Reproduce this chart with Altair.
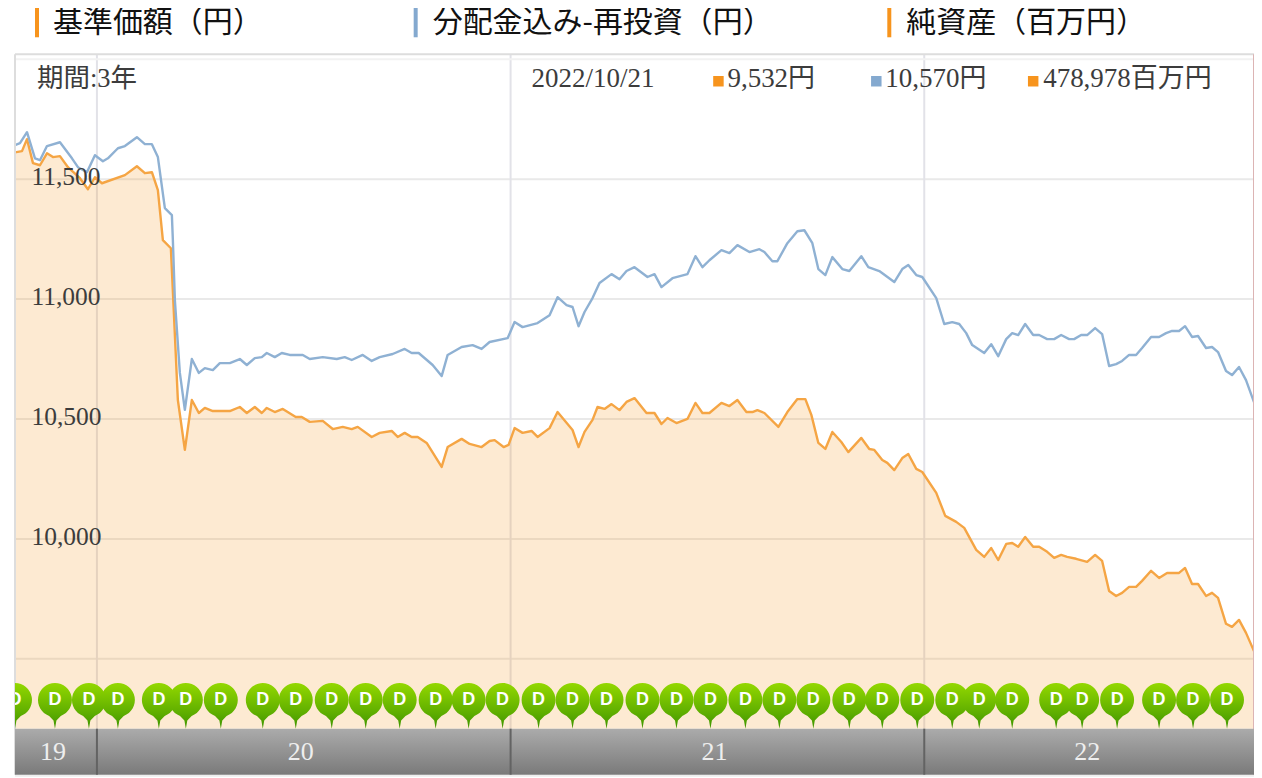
import altair as alt
import pandas as pd

# Time is counted in 1/414ths of a year from the start of the 3-year period
YEAR_STARTS = [82, 496, 910]
T_MAX = 1240

blue_t = [0,5,12,20,25,32,45,57,63,72,80,88,93,103,110,122,130,137,143,150,157,158,160,165,170,177,184,190,198,205,215,225,232,240,247,252,260,267,275,288,295,308,322,330,337,348,357,365,378,390,397,404,418,427,433,447,458,467,475,493,500,508,523,535,543,552,558,564,570,578,585,597,605,612,620,633,640,647,658,673,681,688,695,707,715,723,735,745,750,758,763,773,783,790,798,804,811,818,828,835,847,854,865,880,888,894,902,908,922,930,938,945,952,958,970,977,984,992,998,1004,1011,1019,1025,1033,1040,1047,1055,1060,1067,1073,1081,1088,1095,1102,1108,1115,1122,1128,1137,1145,1152,1158,1165,1171,1178,1184,1192,1198,1204,1212,1218,1225,1232,1240]
blue_v = [11642,11650,11696,11587,11579,11638,11654,11587,11550,11529,11600,11575,11587,11629,11638,11675,11646,11646,11592,11379,11350,11246,10996,10692,10538,10750,10692,10712,10704,10733,10733,10750,10725,10754,10758,10775,10758,10775,10767,10767,10750,10758,10750,10758,10746,10767,10742,10758,10771,10792,10775,10775,10725,10679,10767,10800,10808,10792,10821,10837,10904,10883,10900,10933,11008,10975,10967,10887,10946,11004,11067,11104,11083,11117,11133,11092,11104,11050,11087,11104,11179,11133,11162,11204,11192,11225,11196,11208,11196,11158,11158,11233,11283,11287,11233,11125,11100,11175,11125,11117,11179,11133,11117,11071,11125,11142,11100,11092,11004,10896,10904,10896,10858,10808,10775,10812,10762,10833,10858,10850,10896,10850,10850,10833,10833,10850,10833,10833,10850,10850,10879,10854,10721,10729,10742,10767,10767,10796,10842,10842,10858,10867,10867,10887,10842,10846,10796,10800,10779,10700,10683,10717,10662,10570]

orange_t = [0,7,12,18,25,32,38,45,53,65,73,80,87,110,122,130,137,143,148,156,159,163,170,177,184,190,198,215,225,232,240,247,252,260,268,281,287,295,308,318,328,337,343,357,365,377,383,390,397,403,412,427,433,447,455,467,475,480,489,494,500,508,517,523,535,543,558,564,570,578,583,590,597,605,612,620,632,640,647,653,662,673,681,688,695,707,715,723,732,738,743,750,764,773,783,791,797,804,811,818,827,834,847,855,860,868,873,880,888,894,902,908,922,931,942,950,962,970,977,984,992,998,1004,1011,1019,1025,1033,1040,1047,1053,1062,1073,1081,1088,1095,1102,1108,1115,1122,1128,1137,1145,1153,1165,1171,1178,1184,1192,1198,1204,1212,1218,1225,1232,1240]
orange_v = [11612,11617,11667,11567,11558,11608,11592,11596,11550,11504,11458,11508,11483,11517,11554,11525,11529,11454,11246,11212,10942,10579,10371,10579,10525,10546,10533,10533,10550,10525,10550,10525,10546,10529,10542,10508,10508,10488,10492,10458,10467,10458,10467,10425,10442,10450,10425,10442,10425,10425,10400,10300,10383,10417,10396,10383,10408,10412,10383,10392,10462,10442,10450,10425,10462,10529,10454,10383,10446,10496,10550,10542,10562,10537,10571,10587,10525,10525,10479,10504,10483,10500,10567,10525,10525,10567,10554,10579,10529,10529,10537,10525,10467,10529,10583,10583,10517,10400,10375,10446,10404,10362,10421,10375,10371,10329,10317,10287,10337,10354,10292,10279,10192,10096,10071,10046,9954,9925,9962,9912,9979,9983,9967,10008,9967,9967,9946,9921,9933,9925,9917,9904,9933,9908,9783,9762,9775,9800,9800,9825,9867,9837,9858,9858,9879,9812,9812,9762,9775,9754,9646,9633,9662,9608,9532]

pin_t = [0,40,74,103,144,171,206,248,281,317,351,385,421,454,488,524,558,592,628,662,696,731,765,799,835,868,903,938,965,998,1042,1068,1103,1145,1179,1213]

grid_yen = [9500, 10000, 10500, 11000, 11500]
grid_labels = ["", "10,000", "10,500", "11,000", "11,500"]
year_labels = ["19", "20", "21", "22"]
year_label_t = [38, 286, 700, 1073]

headers = ["基準価額（円）", "分配金込み-再投資（円）", "純資産（百万円）"]
header_colors = ["#F7941D", "#84A9CF", "#F7941D"]
period_text = "期間:3年"
date_text = "2022/10/21"
value_texts = ["9,532円", "10,570円", "478,978百万円"]

Y_TOP, Y_BOTTOM = 12020.83, 9016.67
BAND_TOP = 9208.33
PIN_TEXT_Y = 9329

W, H = 1240, 721
SERIF = "Liberation Serif, Noto Sans CJK JP"
CJK = "Noto Sans CJK JP"

x_scale = alt.Scale(domain=[0, T_MAX], nice=False, zero=False)
y_scale = alt.Scale(domain=[Y_BOTTOM, Y_TOP], nice=False, zero=False)
X = alt.X("t:Q", scale=x_scale, axis=None)
Y = alt.Y("v:Q", scale=y_scale, axis=None)

blue_df = pd.DataFrame({"t": blue_t, "v": blue_v})
orange_df = pd.DataFrame({"t": orange_t, "v": orange_v, "b": BAND_TOP})
grid_df = pd.DataFrame({"v": grid_yen, "label": grid_labels})
year_df = pd.DataFrame({"t": YEAR_STARTS})
pin_df = pd.DataFrame({"t": pin_t, "v": BAND_TOP, "d": PIN_TEXT_Y})
ylab_df = pd.DataFrame({"t": year_label_t, "label": year_labels, "v": 9112})
band_df = pd.DataFrame({"t": [0], "t2": [T_MAX], "v": [Y_BOTTOM], "v2": [BAND_TOP]})

grid_h = alt.Chart(grid_df).mark_rule(color="#e9e9e9", strokeWidth=2).encode(
    y=Y, x=alt.value(0), x2=alt.value(W))
grid_v = alt.Chart(year_df).mark_rule(color="#e2e2e8", strokeWidth=2).encode(
    x=X, y=alt.value(0), y2=alt.value(H))
area = alt.Chart(orange_df).mark_area(color="#F7941D", opacity=0.2).encode(
    x=X, y=Y, y2="b:Q")
orange_line = alt.Chart(orange_df).mark_line(color="#F5A544", strokeWidth=2.4, strokeJoin="round").encode(x=X, y=Y)
blue_line = alt.Chart(blue_df).mark_line(color="#8FB1D3", strokeWidth=2.4, strokeJoin="round").encode(x=X, y=Y)

band = alt.Chart(band_df).mark_rect(
    color=alt.Gradient(gradient="linear", x1=0, y1=0, x2=0, y2=1,
                       stops=[alt.GradientStop(color="#ababab", offset=0),
                              alt.GradientStop(color="#7a7a7a", offset=1)])
).encode(x=alt.X("t:Q", scale=x_scale, axis=None), x2="t2:Q",
         y=alt.Y("v:Q", scale=y_scale, axis=None), y2="v2:Q")
band_div = alt.Chart(year_df.assign(a=Y_BOTTOM, b=BAND_TOP)).mark_rule(color="#636363", strokeWidth=2).encode(
    x=X, y=alt.Y("a:Q", scale=y_scale, axis=None), y2="b:Q")
band_text = alt.Chart(ylab_df).mark_text(font=SERIF, fontSize=26, color="#eeeeee", align="center", baseline="middle").encode(
    x=X, y=Y, text="label:N")

PIN = "M0,0 L-0.05,-0.28 L-0.2,-0.44 A0.586,0.586 0 1 1 0.2,-0.44 L0.05,-0.28 Z"
pins = alt.Chart(pin_df).mark_point(
    shape=PIN, size=3364, filled=True, opacity=1, strokeWidth=0, clip=True,
    fill=alt.Gradient(gradient="linear", x1=0, y1=0, x2=0, y2=1,
                      stops=[alt.GradientStop(color="#93d800", offset=0),
                             alt.GradientStop(color="#5fae00", offset=0.65),
                             alt.GradientStop(color="#3d9400", offset=1)])
).encode(x=X, y=Y)
pin_d = alt.Chart(pin_df).mark_text(text="D", font="Liberation Sans", fontWeight="bold", fontSize=18,
                                    color="#ffffff", align="center", baseline="middle", clip=True).encode(
    x=X, y=alt.Y("d:Q", scale=y_scale, axis=None))

ytext = alt.Chart(grid_df[grid_df.label != ""]).mark_text(
    font=SERIF, fontSize=25.5, color="#3c3c3c", align="left", baseline="middle", dy=-2
).encode(x=alt.value(16.5), y=Y, text="label:N")

def label(text, x, y, size, color="#3c3c3c", font=SERIF):
    return alt.Chart(pd.DataFrame({"s": [text]})).mark_text(
        font=font, fontSize=size, color=color, align="left", baseline="middle"
    ).encode(x=alt.value(x), y=alt.value(y), text="s:N")

def square(x, color):
    return alt.Chart(pd.DataFrame({"s": [1]})).mark_square(size=110, color=color, opacity=1).encode(
        x=alt.value(x), y=alt.value(27))

def bar(x, color):
    return alt.Chart(pd.DataFrame({"s": [1]})).mark_rule(color=color, strokeWidth=4).encode(
        x=alt.value(x), y=alt.value(-47), y2=alt.value(-17))

frame = [
    alt.Chart(pd.DataFrame({"s": [1]})).mark_rule(color="#dddddd", strokeWidth=2).encode(
        x=alt.value(0), x2=alt.value(W), y=alt.value(0)),
    alt.Chart(pd.DataFrame({"s": [1]})).mark_rule(color="#f2f2f2", strokeWidth=2).encode(
        x=alt.value(0), x2=alt.value(W), y=alt.value(5)),
    alt.Chart(pd.DataFrame({"s": [1]})).mark_rule(color="#dddddd", strokeWidth=2).encode(
        x=alt.value(0), y=alt.value(0), y2=alt.value(H)),
    alt.Chart(pd.DataFrame({"s": [1]})).mark_rule(color="#dcb4b4", strokeWidth=2).encode(
        x=alt.value(W), y=alt.value(0), y2=alt.value(H)),
    alt.Chart(pd.DataFrame({"s": [1]})).mark_rule(color="#eeeeee", strokeWidth=2).encode(
        x=alt.value(0), x2=alt.value(W), y=alt.value(H + 1)),
]

texts = [
    bar(22, header_colors[0]), bar(401, header_colors[1]), bar(875, header_colors[2]),
    label(headers[0], 38, -31, 30, "#111111", CJK),
    label(headers[1], 418, -31, 30, "#111111", CJK),
    label(headers[2], 892, -31, 30, "#111111", CJK),
    label(period_text, 22, 25, 26.5),
    label(date_text, 517, 25, 27),
    square(704, header_colors[0]), label(value_texts[0], 713, 25, 27),
    square(862, header_colors[1]), label(value_texts[1], 871, 25, 27),
    square(1019, header_colors[2]), label(value_texts[2], 1029, 25, 27),
]

chart = alt.layer(
    grid_h, grid_v, area, orange_line, blue_line, *frame, band, band_div, band_text,
    pins, pin_d, ytext, *texts
).properties(
    width=W, height=H,
    padding={"left": 7, "top": 46, "right": 0, "bottom": 4},
    autosize=alt.AutoSizeParams(type="none"),
    background="white",
).configure_view(stroke=None)

chart.save("out.html", embed_options={"renderer": "svg", "actions": False})
